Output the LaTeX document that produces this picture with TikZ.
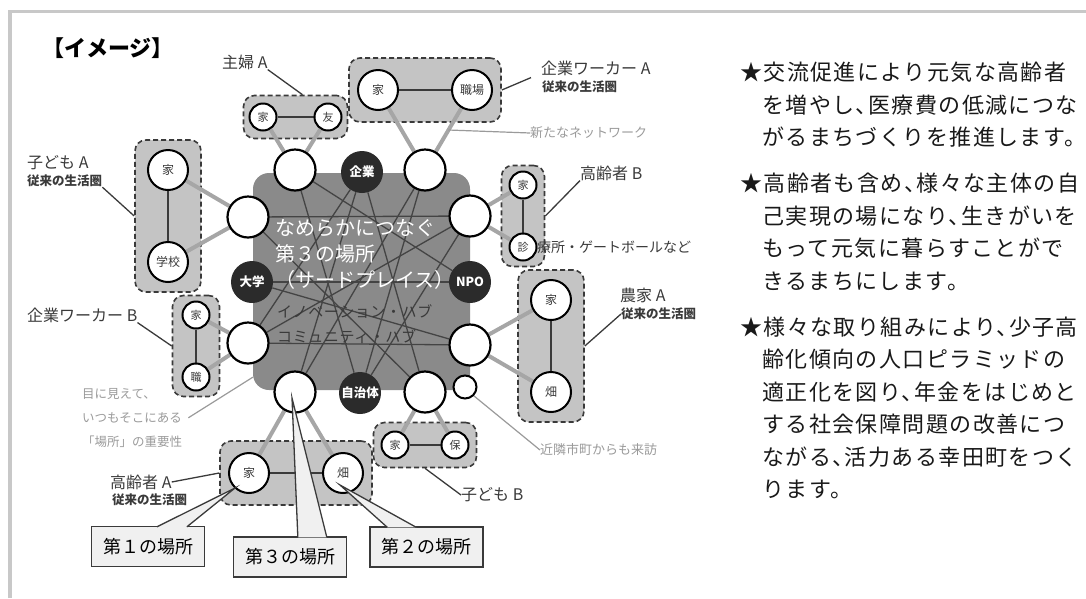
\documentclass[tikz,border=0pt]{standalone}
\usepackage{fontspec}
\setmainfont{Noto Sans CJK JP}
\usetikzlibrary{positioning,fit,calc}
\definecolor{plazagray}{HTML}{8A8A8A}
\definecolor{grpgray}{HTML}{C4C4C4}
\definecolor{linkgray}{HTML}{A6A6A6}
\definecolor{inkgray}{HTML}{3A3A3A}
\definecolor{notegray}{HTML}{9A9A9A}
\definecolor{orgblack}{HTML}{2B2B2B}
\definecolor{callfill}{HTML}{F0F0F0}
\definecolor{framegray}{HTML}{C8C8C8}
\definecolor{huboline}{HTML}{444444}
\pgfdeclarelayer{back}
\pgfdeclarelayer{mid}
\pgfdeclarelayer{front}
\pgfsetlayers{back,mid,main,front}

\tikzset{
  hub/.style={circle, draw=black, line width=2.2pt, fill=white, minimum size=41pt, inner sep=0pt},
  spot/.style={circle, draw=black, line width=2pt, fill=white, minimum size=40pt, inner sep=0pt,
    text=inkgray, font=\fontsize{12}{12}\selectfont},
  spotsm/.style={spot, minimum size=27pt, font=\fontsize{11}{11}\selectfont},
  org/.style={circle, fill=orgblack, minimum size=42pt, inner sep=0pt, text=white,
    font=\fontsize{12.5}{12.5}\selectfont\bfseries},
  grp/.style={draw=inkgray, dash pattern=on 5pt off 3pt, line width=1.6pt, fill=grpgray,
    rounded corners=11pt},
  plaza/.style={fill=plazagray, rounded corners=16pt, minimum width=217pt, minimum height=217pt},
  tie/.style={draw=inkgray, line width=1.6pt},
  hubline/.style={draw=linkgray, line width=4pt},
  web/.style={draw=huboline, line width=1.3pt},
  lead/.style={draw=inkgray, line width=1.3pt},
  notelead/.style={draw=notegray, line width=1.2pt},
  who/.style={inner sep=0pt, anchor=west, text=inkgray, font=\fontsize{16}{16}\selectfont},
  whosub/.style={inner sep=0pt, anchor=west, text=inkgray, font=\fontsize{12.5}{12.5}\selectfont\bfseries},
  note/.style={inner sep=0pt, text=notegray, align=left, font=\fontsize{12.5}{24}\selectfont},
  callbox/.style={draw=inkgray, line width=1.3pt, fill=callfill, minimum width=113pt,
    minimum height=40pt, font=\fontsize{18}{18}\selectfont},
  % anchored on the baseline of the last line
  para/.style={inner sep=0pt, anchor=base west, align=left, text=black!90,
    font=\fontsize{22}{32.5}\selectfont\addfontfeatures{LetterSpace=6.5,RawFeature=+halt}},
}

\begin{document}
\begin{tikzpicture}[x=1pt,y=-1pt]
\useasboundingbox (0,0) rectangle (1086,598);
\draw[framegray, line width=3.5pt] (10,598) -- (10,11.5) -- (1086,11.5);

\node[font=\fontsize{22}{22}\selectfont\bfseries] (title) at (108,48) {【イメージ】};

% ring round the third place
\node[hub] (hTL) at (295,170) {};
\node[org] (oKigyo) at (362,172) {企業};
\node[hub] (hTR) at (425,170) {};
\node[hub] (hL) at (248,217) {};
\node[hub] (hR) at (470,216) {};
\node[org] (oDaigaku) at (252,282) {大学};
\node[org] (oNPO) at (470,282) {NPO};
\node[hub] (hLL) at (248,343) {};
\node[hub] (hRL) at (470,345) {};
\node[hub] (hB) at (295,392) {};
\node[org] (oJichi) at (360,393) {自治体};
\node[hub] (hBR) at (425,392) {};
\node[hub, minimum size=23pt, line width=2pt] (hS) at (465,387) {};

% first and second places
\node[spotsm] (kaShufu) at (263,117) {家};
\node[spotsm] (tomo) at (328,117) {友};
\node[spot] (kaKigyoA) at (378,90) {家};
\node[spot] (shokuba) at (472,90) {職場};
\node[spot] (kaKodomoA) at (168,170) {家};
\node[spot] (gakko) at (168,262) {学校};
\node[spotsm] (kaKoreiB) at (523,185) {家};
\node[spotsm] (shin) at (523,247) {診};
\node[spotsm] (kaKigyoB) at (196,315) {家};
\node[spotsm] (shoku) at (196,377) {職};
\node[spot] (kaNoka) at (551,300) {家};
\node[spot] (hatakeNoka) at (551,392) {畑};
\node[spotsm] (kaKodomoB) at (395,445) {家};
\node[spotsm] (ho) at (455,445) {保};
\node[spot] (kaKoreiA) at (249,473) {家};
\node[spot] (hatakeKoreiA) at (343,473) {畑};

\begin{pgfonlayer}{back}
\node[grp, inner xsep=5pt, inner ysep=7pt, fit=(kaShufu)(tomo)] (gShufu) {};
\node[grp, inner xsep=8pt, inner ysep=11pt, fit=(kaKigyoA)(shokuba)] (gKigyoA) {};
\node[grp, inner xsep=12pt, inner ysep=9pt, fit=(kaKodomoA)(gakko)] (gKodomoA) {};
\node[grp, inner xsep=7pt, inner ysep=5pt, fit=(kaKoreiB)(shin)] (gKoreiB) {};
\node[grp, inner xsep=9pt, inner ysep=5pt, fit=(kaKigyoB)(shoku)] (gKigyoB) {};
\node[grp, inner xsep=12pt, inner ysep=9pt, fit=(kaNoka)(hatakeNoka)] (gNoka) {};
\node[grp, inner xsep=7pt, inner ysep=8pt, fit=(kaKodomoB)(ho)] (gKodomoB) {};
\node[grp, inner xsep=8pt, inner ysep=11pt, fit=(kaKoreiA)(hatakeKoreiA)] (gKoreiA) {};
\node[plaza] (plaza) at (361.5,281.5) {};
\end{pgfonlayer}

\node[inner sep=0pt, anchor=base west, align=left, text=white,
  font=\fontsize{20}{26}\selectfont] (plazaName) at (275,287.5)
  {なめらかにつなぐ\\第３の場所\\（サードプレイス）};
\node[inner sep=0pt, anchor=base west, align=left, text=inkgray,
  font=\fontsize{15}{25}\selectfont\addfontfeatures{LetterSpace=4}] (plazaHub) at (277,342.5)
  {イノベーション・ハブ\\コミュニティ・ハブ};

\begin{pgfonlayer}{mid}
\draw[tie] (kaShufu) -- (tomo);
\draw[tie] (kaKigyoA) -- (shokuba);
\draw[tie] (kaKodomoA) -- (gakko);
\draw[tie] (kaKoreiB) -- (shin);
\draw[tie] (kaKigyoB) -- (shoku);
\draw[tie] (kaNoka) -- (hatakeNoka);
\draw[tie] (kaKodomoB) -- (ho);
\draw[tie] (kaKoreiA) -- (hatakeKoreiA);
% new network
\draw[hubline] (hTL) -- (kaShufu);
\draw[hubline] (hTL) -- (tomo);
\draw[hubline] (hTR) -- (kaKigyoA);
\draw[hubline] (hTR) -- (shokuba);
\draw[hubline] (hL) -- (kaKodomoA);
\draw[hubline] (hL) -- (gakko);
\draw[hubline] (hR) -- (kaKoreiB);
\draw[hubline] (hR) -- (shin);
\draw[hubline] (hLL) -- (kaKigyoB);
\draw[hubline] (hLL) -- (shoku);
\draw[hubline] (hRL) -- (kaNoka);
\draw[hubline] (hRL) -- (hatakeNoka);
\draw[hubline] (hB) -- (kaKoreiA);
\draw[hubline] (hB) -- (hatakeKoreiA);
\draw[hubline] (hBR) -- (kaKodomoB);
\draw[hubline] (hBR) -- (ho);
% web inside the third place
\foreach \a/\b in {hL/hR, oDaigaku/oNPO, hLL/hRL, hTL/oNPO, hTL/oJichi, oKigyo/hLL,
  oKigyo/hB, oKigyo/hBR, hTR/hB, hTR/oJichi, hR/hLL, hR/oJichi, oDaigaku/hRL, hL/hBR}
  \draw[web] (\a) -- (\b);
\end{pgfonlayer}

% who lives where
\node[who] (lShufu) at (222,62) {主婦 A};
\node[who] (lKigyoA) at (541,68) {企業ワーカー A};
\node[whosub] (sKigyoA) at (542,87) {従来の生活圏};
\node[who] (lKodomoA) at (27,163) {子ども A};
\node[whosub] (sKodomoA) at (27,181) {従来の生活圏};
\node[who] (lKoreiB) at (580,173) {高齢者 B};
\node[inner sep=0pt, anchor=west, text=inkgray, font=\fontsize{14}{14}\selectfont] (lShinryo) at (537,247) {療所・ゲートボールなど};
\node[who] (lNoka) at (620,295) {農家 A};
\node[whosub] (sNoka) at (621,314) {従来の生活圏};
\node[who] (lKodomoB) at (461,495) {子ども B};
\node[who] (lKoreiA) at (110,482) {高齢者 A};
\node[whosub] (sKoreiA) at (112,500) {従来の生活圏};
\node[who] (lKigyoB) at (27,315) {企業ワーカー B};

\node[note, anchor=west, font=\fontsize{13}{13}\selectfont] (nNet) at (530,133) {新たなネットワーク};
\node[note, anchor=west, font=\fontsize{13}{13}\selectfont] (nKinrin) at (540,450) {近隣市町からも来訪};
\node[note, anchor=north west] (nBasho) at (82,388) {目に見えて、\\いつもそこにある\\「場所」の重要性};

\begin{pgfonlayer}{mid}
\draw[lead] (lShufu.south east) -- ($(gShufu.north)+(7,0)$);
\draw[lead] (gKigyoA.east) -- ($(lKigyoA.south west)+(-10,2)$);
\draw[lead] (sKodomoA.south east) -- (gKodomoA.west);
\draw[lead] (gKoreiB.east) -- (lKoreiB.south west);
\draw[lead] (gNoka.east) -- (sNoka.west);
\draw[lead] (gKodomoB.south) -- (lKodomoB.west);
\draw[lead] (lKoreiA.east) -- (gKoreiA.west);
\draw[lead] (lKigyoB.south east) -- (gKigyoB.west);
\draw[notelead] (nNet.west) -- ($(shokuba)!0.5!(hTR)$);
\draw[notelead] (hS.south east) -- (nKinrin.west);
\draw[notelead] ($(nBasho.east)+(6,0)$) -- ($(plaza.south west)+(0,-13)$);
\end{pgfonlayer}

% the three places
\begin{pgfonlayer}{front}
\node[callbox] (cFirst) at (148,546.5) {第１の場所};
\node[callbox] (cThird) at (290,557) {第３の場所};
\node[callbox] (cSecond) at (426.5,547) {第２の場所};
\coordinate (tFirst) at ($(kaKoreiA.center)+(-14,15)$);
\coordinate (tThird) at ($(hB.center)+(-3,6)$);
\coordinate (tSecond) at ($(hatakeKoreiA.center)+(-3,12)$);
\coordinate (aFirst) at ($(cFirst.north west)+(66,1)$);
\coordinate (bFirst) at ($(cFirst.north west)+(96,1)$);
\coordinate (aThird) at ($(cThird.north west)+(65,1)$);
\coordinate (bThird) at ($(cThird.north west)+(94,1)$);
\coordinate (aSecond) at ($(cSecond.north west)+(18,1)$);
\coordinate (bSecond) at ($(cSecond.north west)+(47,1)$);
\fill[callfill] (aFirst) -- (tFirst) -- (bFirst) -- cycle;
\draw[lead] (aFirst) -- (tFirst) -- (bFirst);
\fill[callfill] (aThird) -- (tThird) -- (bThird) -- cycle;
\draw[lead] (aThird) -- (tThird) -- (bThird);
\fill[callfill] (aSecond) -- (tSecond) -- (bSecond) -- cycle;
\draw[lead] (aSecond) -- (tSecond) -- (bSecond);
\end{pgfonlayer}

% aims
\node[para] (pA) at (740,145.5)
  {★交流促進により元気な高齢者\\\phantom{★}を増やし、医療費の低減につな\\\phantom{★}がるまちづくりを推進します。};
\node[para] (pB) at (740,289)
  {★高齢者も含め、様々な主体の自\\\phantom{★}己実現の場になり、生きがいを\\\phantom{★}もって元気に暮らすことがで\\\phantom{★}きるまちにします。};
\node[para] (pC) at (740,497.5)
  {★様々な取り組みにより、少子高\\\phantom{★}齢化傾向の人口ピラミッドの\\\phantom{★}適正化を図り、年金をはじめと\\\phantom{★}する社会保障問題の改善につ\\\phantom{★}ながる、活力ある幸田町をつく\\\phantom{★}ります。};
\end{tikzpicture}
\end{document}
